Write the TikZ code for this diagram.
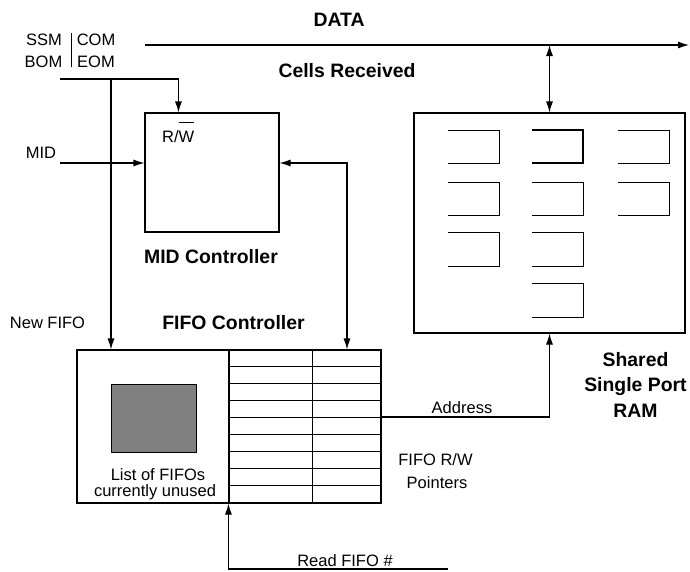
\documentclass[tikz,border=0pt]{standalone}
\usepackage{fontspec}
\setmainfont{Liberation Sans}
\usetikzlibrary{arrows.meta}
\begin{document}
\begin{tikzpicture}[x=1pt,y=-1pt,
  lbl/.style={inner sep=0pt, font=\fontsize{16.5}{19}\selectfont, text height=11.8pt, text depth=0pt},
  blbl/.style={inner sep=0pt, font=\fontsize{19.4}{23}\selectfont\bfseries, text height=13.9pt, text depth=0pt},
  wire/.style={line width=1.1pt},
  arr/.style={wire, -{Latex[length=11pt,width=7pt]}},
  darr/.style={wire, {Latex[length=11pt,width=7pt]}-{Latex[length=11pt,width=7pt]}},
  blk/.style={draw, line width=1.1pt, inner sep=0pt},
  cell/.style={line width=1pt}
]
\useasboundingbox (0,0) rectangle (690,571);

% blocks
\node[blk, minimum width=134pt, minimum height=119pt] (mid) at (212,172.5) {};
\node[blk, minimum width=271pt, minimum height=220pt] (ram) at (549.5,223) {};
\node[blk, minimum width=304pt, minimum height=153pt] (fifo) at (229,426.5) {};
\node[blk, minimum width=152pt, minimum height=153pt] (tbl) at (305,426.5) {};
\node[draw, fill=black!50, line width=1pt, minimum width=85pt, minimum height=68pt, inner sep=0pt] (unused) at (153.5,418) {};

% table rows and column
\foreach \k in {1,...,8}
  \draw[wire] ([yshift=-17*\k pt]tbl.north west) -- ([yshift=-17*\k pt]tbl.north east);
\draw[wire] ([xshift=84pt]tbl.north west) -- ([xshift=84pt]tbl.south west);

% RAM cells
\foreach \x in {448,532,618}
  \draw[cell] (\x,130) -- (\x+51,130) -- (\x+51,163) -- (\x,163);
\draw[line width=1.8pt] (532,130) -- (583,130) -- (583,163) -- (532,163);
\foreach \x in {448,532,618}
  \draw[cell] (\x,182) -- (\x+51,182) -- (\x+51,215) -- (\x,215);
\foreach \x in {448,532}
  \draw[cell] (\x,232) -- (\x+51,232) -- (\x+51,266) -- (\x,266);
\draw[cell] (532,283) -- (583,283) -- (583,317) -- (532,317);

% connectors
\coordinate (dstart) at (145,45);
\coordinate (dend) at (689,45);
\draw[arr] (dstart) -- (dend);
\draw[darr] (ram.north |- dstart) -- (ram.north);

\coordinate (ctl) at (60,79);
\coordinate (rwin) at ([xshift=34pt]mid.north west);
\draw[arr] (ctl) -| (rwin);
\coordinate (nf) at (111,79);
\draw[arr] (nf) -- (nf |- fifo.north);

\coordinate (midin) at (60,163);
\draw[arr] (midin) -- (midin -| mid.west);

\coordinate (mr) at (347,163);
\draw[darr] (mr -| mid.east) -- (mr) -- (mr |- fifo.north);

\coordinate (addr) at (381,417);
\draw[arr] (addr) -| (ram.south);

\coordinate (rd) at (448,569);
\draw[arr] (rd) -| (tbl.south west);

% separator between control names
\draw[line width=0.9pt] (71,33) -- (71,67);

% labels
\node[blbl] (data) at (339,19.5) {DATA};
\node[blbl] (cells) at (347,70.5) {Cells Received};
\node[lbl] (ssm) at (44,40) {SSM};
\node[lbl] (com) at (96,40) {COM};
\node[lbl] (bom) at (43.5,61.5) {BOM};
\node[lbl] (eom) at (96,61.5) {EOM};
\node[lbl, anchor=base west, text height=, text depth=] (rw) at (162,142) {R/$\overline{\mbox{W\rule{0pt}{18pt}}}$};
\node[lbl] (midl) at (41,153) {MID};
\node[blbl] (midc) at (211,257) {MID Controller};
\node[lbl] (newf) at (47.5,323) {New FIFO};
\node[blbl] (fifoc) at (233.5,323) {FIFO Controller};
\node[lbl] (list1) at (158,475) {List of FIFOs};
\node[lbl] (list2) at (155,491) {currently unused};
\node[lbl] (ptr1) at (435.5,459.5) {FIFO R/W};
\node[lbl] (ptr2) at (437,482.5) {Pointers};
\node[lbl] (addrl) at (462,407.5) {Address};
\node[lbl] (readl) at (345,560.5) {Read FIFO \#};
\node[blbl] (ram1) at (635.5,359.5) {Shared};
\node[blbl] (ram2) at (635.5,385) {Single Port};
\node[blbl] (ram3) at (635.5,410.5) {RAM};
\end{tikzpicture}
\end{document}
